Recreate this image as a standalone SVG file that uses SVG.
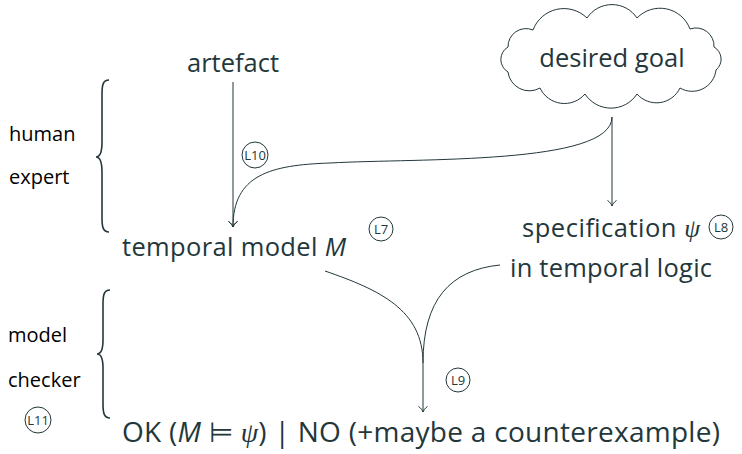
<svg xmlns="http://www.w3.org/2000/svg" width="742" height="454" viewBox="0 0 742 454">
<defs>
<style>
text{font-family:"Open Sans","Liberation Sans",sans-serif;fill:#23373b}
.big{font-size:25.5px}
.res{font-size:28px}
.side{font-size:20px;fill:#000}
.lab{font-size:13px;text-anchor:middle}
.ring{fill:#fff;stroke:#23373b;stroke-width:1}
.edge{fill:none;stroke:#23373b;stroke-width:1}
.brace{fill:none;stroke:#23373b;stroke-width:1.6}
.math{font-family:"Liberation Serif","DejaVu Serif",serif;font-style:italic}
.cloud{fill:#fff;stroke:#23373b;stroke-width:1}
</style>
<marker id="to" viewBox="-7 -6 9 12" markerWidth="9" markerHeight="12" refX="0" refY="0" orient="auto" markerUnits="userSpaceOnUse">
<path d="M-5.5,-4.5 C-4,-2 -1.5,-0.5 0,0 C-1.5,0.5 -4,2 -5.5,4.5" fill="none" stroke="#23373b" stroke-width="1"/>
</marker>
</defs>

<g id="artefact">
<text class="big" x="233" y="72" text-anchor="middle">artefact</text>
</g>

<g id="goal">
<path class="cloud" d="M508,72 A14.5,14.5 0 0,1 508,47 A18,18 0 0,1 533,30 A33,33 0 0,1 587,18 A30,30 0 0,1 637,18 A32,32 0 0,1 690,29 A18,18 0 0,1 714,47 A14,14 0 0,1 716,70 A24,24 0 0,1 680,88 A26,26 0 0,1 637,94 A31,31 0 0,1 585,94 A27,27 0 0,1 540,88 A21.5,21.5 0 0,1 508,72 Z"/>
<text class="big" x="612" y="67" text-anchor="middle">desired goal</text>
</g>

<g id="model">
<text class="big" x="122" y="256" textLength="224">temporal model <tspan font-style="italic">M</tspan></text>
</g>

<g id="spec">
<text class="big" x="522" y="237" textLength="178">specification <tspan class="math">ψ</tspan></text>
<text class="big" x="510" y="277" textLength="202">in temporal logic</text>
</g>

<g id="result">
<text class="res" x="122" y="442" textLength="598">OK (<tspan font-style="italic">M</tspan> ⊨ <tspan class="math">ψ</tspan>) | NO (+maybe a counterexample)</text>
</g>

<g id="human-expert">
<path class="brace" d="M109,80 C103,80 102,85 102,94 L102,142 C102,152 100,157 96,157 C100,157 102,162 102,172 L102,218 C102,227 103,232 109,232"/>
<text class="side" x="9" y="141">human</text>
<text class="side" x="9" y="184">expert</text>
</g>

<g id="model-checker">
<path class="brace" d="M110,290 C104,290 103,295 103,304 L103,340 C103,350 101,354 97,354 C101,354 103,358 103,368 L103,404 C103,413 104,418 110,418"/>
<text class="side" x="8" y="342">model</text>
<text class="side" x="8" y="387">checker</text>
</g>

<g id="connectors">
<path class="edge" d="M233,82 L233,227" marker-end="url(#to)"/>
<path class="edge" d="M612,117 C612,165 420,158 330,163 C270,165 233,175 233,227" marker-end="url(#to)"/>
<path class="edge" d="M612,117 L612,206" marker-end="url(#to)"/>
<path class="edge" d="M325,271 C380,290 423,310 423,363"/>
<path class="edge" d="M500,265 C450,270 423,300 423,363"/>
<path class="edge" d="M423,363 L423,412" marker-end="url(#to)"/>
</g>

<g id="L10"><circle class="ring" cx="255" cy="155" r="13"/><text class="lab" x="255" y="159.5">L10</text></g>
<g id="L7"><circle class="ring" cx="381" cy="229" r="12"/><text class="lab" x="381" y="233.5">L7</text></g>
<g id="L8"><circle class="ring" cx="721" cy="227" r="12"/><text class="lab" x="721" y="231.5">L8</text></g>
<g id="L9"><circle class="ring" cx="458" cy="380" r="12"/><text class="lab" x="458" y="384.5">L9</text></g>
<g id="L11"><circle class="ring" cx="38" cy="420" r="13"/><text class="lab" x="38" y="424.5">L11</text></g>
</svg>
